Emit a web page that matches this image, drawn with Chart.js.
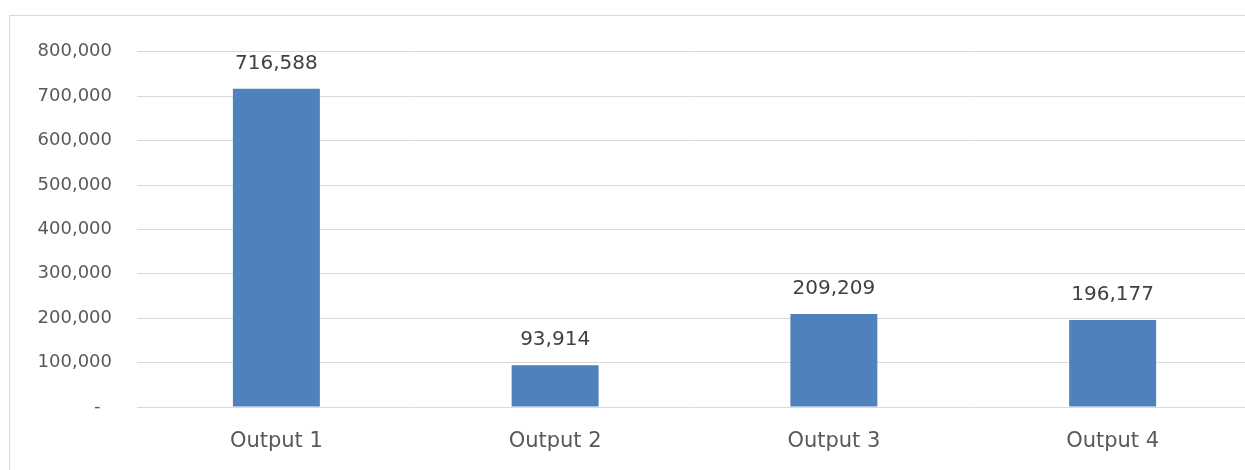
<!DOCTYPE html>
<html>
<head>
<meta charset="utf-8">
<script src="https://cdn.jsdelivr.net/npm/chart.js@4.4.1/dist/chart.umd.min.js"></script>
<style>
    html, body { margin: 0; padding: 0; background: #fff; overflow: hidden; width: 1245px; height: 470px; }
    #frame { position: absolute; left: 9px; top: 15px; width: 1300px; height: 520px; border-left: 1px solid #d9d9d9; border-top: 1px solid #d9d9d9; }
    #box { position: absolute; left: 0; top: 0; width: 1242px; height: 460px; }
</style>
</head>
<body>
<div id="frame"><div id="box"><canvas id="outChart"></canvas></div></div>
<script>
const categories = ['Output 1', 'Output 2', 'Output 3', 'Output 4'];
const values = [716588, 93914, 209209, 196177];
const yMax = 800000;
const yStep = 100000;

const fmt = v => v.toLocaleString('en-US');

// draws the number over each bar, Excel style
const barLabels = {
    id: 'barLabels',
    afterDatasetsDraw(chart) {
        const ctx = chart.ctx;
        ctx.save();
        ctx.font = '20px "DejaVu Sans"';
        ctx.fillStyle = '#404040';
        ctx.textAlign = 'center';
        ctx.textBaseline = 'alphabetic';
        chart.getDatasetMeta(0).data.forEach((bar, i) => {
            ctx.fillText(fmt(values[i]), bar.x, bar.y - 20);
        });
        ctx.restore();
    }
};

document.addEventListener('DOMContentLoaded', () => {
    const ctx = document.getElementById('outChart').getContext('2d');
    new Chart(ctx, {
        type: 'bar',
        data: {
            labels: categories,
            datasets: [{
                data: values,
                backgroundColor: '#4f81bd',
                borderWidth: 0,
                categoryPercentage: 1,
                barPercentage: 0.312
            }]
        },
        options: {
            responsive: true,
            maintainAspectRatio: false,
            animation: false,
            layout: { padding: { top: 16, right: 0, bottom: 0, left: 0 } },
            plugins: {
                legend: { display: false },
                tooltip: { enabled: false }
            },
            scales: {
                y: {
                    min: 0,
                    max: yMax,
                    afterFit: s => { s.width = 127; },
                    border: { display: false },
                    grid: { color: '#d9d9d9', lineWidth: 1, drawTicks: false },
                    ticks: {
                        stepSize: yStep,
                        padding: 25,
                        color: '#595959',
                        font: { family: 'DejaVu Sans', size: 18 },
                        callback: v => v === 0 ? '-  ' : fmt(v)
                    }
                },
                x: {
                    afterFit: s => { s.height = 69; },
                    border: { display: false },
                    grid: { display: false, drawTicks: false },
                    ticks: {
                        padding: 22,
                        color: '#595959',
                        font: { family: 'DejaVu Sans', size: 21 }
                    }
                }
            }
        },
        plugins: [barLabels]
    });
});
</script>
</body>
</html>
